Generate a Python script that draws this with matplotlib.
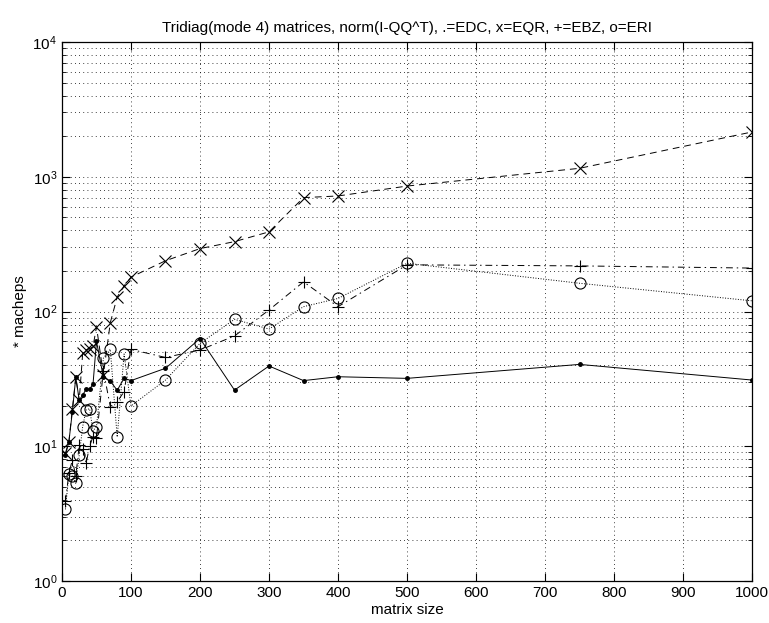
import numpy as np
import matplotlib
matplotlib.use("Agg")
import matplotlib.pyplot as plt
from matplotlib.ticker import LogLocator, MultipleLocator, NullFormatter

# =========================================================
# DATA
# =========================================================

sizes = [5, 10, 15, 20, 25, 30, 35, 40, 45, 50, 60, 70, 80, 90, 100,
         150, 200, 250, 300, 350, 400, 500, 750, 1000]

edc = [8.6, 10.8, 18, 32.5, 22, 24, 26.5, 26.5, 29, 60, 32.5, 30.5, 26, 32, 30.7,
       37.9, 63, 26.1, 39.4, 30.7, 32.8, 31.9, 40.5, 31]

eqr = [8.9, 10.8, 18.8, 32.5, 22, 49, 52, 53, 55, 77, 34, 82.6, 128, 155, 180,
       238, 293, 330, 390, 700, 720, 853, 1155, 2150]

ebz = [3.9, 6.3, 7.9, 6.0, 10.2, 9.6, 7.5, 10, 11.8, 11.5, 36.4, 19.7, 21.4, 25.4, 52.3,
       45.6, 51.8, 65.8, 102.6, 166, 108.6, 222, 218, 210]

eri = [3.4, 6.2, 6.0, 5.3, 8.6, 14, 18.6, 19, 13, 14, 45, 52.5, 11.7, 48.4, 19.9,
       31, 58, 87.5, 74.1, 108.6, 125, 228, 162, 120]

title = "Tridiag(mode 4) matrices, norm(I-QQ^T), .=EDC, x=EQR, +=EBZ, o=ERI"

# =========================================================
# PLOT
# =========================================================

plt.rcParams['font.family'] = ['Liberation Sans', 'DejaVu Sans']
plt.rcParams['mathtext.default'] = 'regular'
plt.rcParams['font.size'] = 11

fig = plt.figure(figsize=(7.69, 6.23), dpi=100)
ax = fig.add_axes([0.0806, 0.0674, 0.8974, 0.8652])

lw = 0.7
ax.plot(sizes, edc, '-', color='k', marker='.', markersize=5, linewidth=lw)
ax.plot(sizes, eqr, '--', color='k', marker='x', markersize=8, linewidth=lw,
        markeredgewidth=0.8, dashes=(7, 5))
ax.plot(sizes, ebz, '-.', color='k', marker='+', markersize=9, linewidth=lw,
        markeredgewidth=0.8, dashes=(7, 4, 1.5, 4))
ax.plot(sizes, eri, ':', color='k', marker='o', markersize=8, linewidth=lw,
        markerfacecolor='none', markeredgewidth=0.8)

ax.set_yscale('log')
ax.set_xlim(0, 1000)
ax.set_ylim(1, 1e4)
ax.xaxis.set_major_locator(MultipleLocator(100))
ax.yaxis.set_major_locator(LogLocator(base=10, numticks=10))
ax.yaxis.set_minor_locator(LogLocator(base=10, subs=np.arange(2, 10), numticks=20))
ax.yaxis.set_minor_formatter(NullFormatter())

ax.grid(True, which='major', axis='both', linestyle=(0, (1, 4)), color='k', linewidth=0.6)
ax.grid(True, which='minor', axis='y', linestyle=(0, (1, 4)), color='k', linewidth=0.6)

ax.tick_params(which='both', direction='in', top=True, right=True)
ax.tick_params(which='major', length=6, labelsize=11)
ax.tick_params(which='minor', length=3)
for s in ax.spines.values():
    s.set_linewidth(0.9)

ax.set_xlabel('matrix size', fontsize=11, labelpad=2)
ax.set_ylabel('* macheps', fontsize=11, labelpad=4)
ax.set_title(title, fontsize=11, pad=7)

fig.savefig("out.png", dpi=100)
